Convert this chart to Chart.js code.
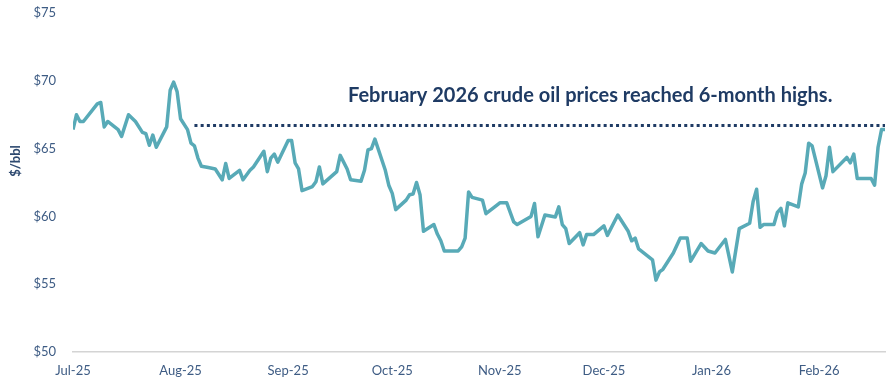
<!DOCTYPE html>
<html>
<head>
<meta charset="utf-8">
<script src="https://cdn.jsdelivr.net/npm/chart.js@4/dist/chart.umd.min.js"></script>
<style>
  html, body { margin: 0; padding: 0; background: #fff; }
  #wrap { width: 891px; height: 381px; }
</style>
</head>
<body>
<div id="wrap"><canvas id="oilChart" width="891" height="381"></canvas></div>
<script>
// daily crude price, $/bbl
var dates = [
  '2025-07-01','2025-07-02','2025-07-03','2025-07-04','2025-07-08','2025-07-09','2025-07-10','2025-07-11',
  '2025-07-14','2025-07-15','2025-07-17','2025-07-19','2025-07-21','2025-07-22','2025-07-23','2025-07-24',
  '2025-07-25','2025-07-28','2025-07-29','2025-07-30','2025-07-31','2025-08-01','2025-08-03','2025-08-04',
  '2025-08-05','2025-08-06','2025-08-07','2025-08-09','2025-08-11','2025-08-13','2025-08-14','2025-08-15',
  '2025-08-18','2025-08-19','2025-08-21','2025-08-22','2025-08-25','2025-08-26','2025-08-27','2025-08-28',
  '2025-08-29','2025-09-01','2025-09-02','2025-09-03','2025-09-04','2025-09-05','2025-09-08','2025-09-09',
  '2025-09-10','2025-09-11','2025-09-15','2025-09-16','2025-09-18','2025-09-19','2025-09-22','2025-09-23',
  '2025-09-24','2025-09-25','2025-09-26','2025-09-29','2025-09-30','2025-10-01','2025-10-02','2025-10-05',
  '2025-10-06','2025-10-07','2025-10-08','2025-10-09','2025-10-10','2025-10-13','2025-10-14','2025-10-15',
  '2025-10-16','2025-10-20','2025-10-21','2025-10-22','2025-10-23','2025-10-24','2025-10-27','2025-10-28',
  '2025-10-31','2025-11-01','2025-11-03','2025-11-05','2025-11-06','2025-11-08','2025-11-10','2025-11-11',
  '2025-11-12','2025-11-14','2025-11-17','2025-11-18','2025-11-19','2025-11-20','2025-11-21','2025-11-24',
  '2025-11-25','2025-11-26','2025-11-28','2025-12-01','2025-12-02','2025-12-05','2025-12-08','2025-12-09',
  '2025-12-10','2025-12-11','2025-12-15','2025-12-16','2025-12-17','2025-12-18','2025-12-21','2025-12-23',
  '2025-12-25','2025-12-26','2025-12-29','2025-12-31','2026-01-02','2026-01-05','2026-01-07','2026-01-09',
  '2026-01-12','2026-01-13','2026-01-14','2026-01-15','2026-01-16','2026-01-19','2026-01-20','2026-01-21',
  '2026-01-22','2026-01-23','2026-01-26','2026-01-27','2026-01-28','2026-01-29','2026-01-30','2026-02-02',
  '2026-02-03','2026-02-04','2026-02-05','2026-02-09','2026-02-10','2026-02-11','2026-02-12','2026-02-16',
  '2026-02-17','2026-02-18','2026-02-19','2026-02-20'
];
var prices = [
  66.4, 67.5, 67.0, 67.0, 68.3, 68.4, 66.6, 67.0,
  66.4, 65.9, 67.5, 67.0, 66.2, 66.1, 65.25, 66.0,
  65.1, 66.6, 69.3, 69.9, 69.2, 67.2, 66.4, 65.4,
  65.2, 64.3, 63.7, 63.6, 63.5, 62.7, 63.9, 62.8,
  63.4, 62.7, 63.4, 63.65, 64.8, 63.3, 64.3, 64.6,
  64.0, 65.6, 65.6, 63.95, 63.5, 61.9, 62.2, 62.55,
  63.65, 62.4, 63.3, 64.5, 63.5, 62.7, 62.6, 63.4,
  64.9, 65.0, 65.7, 63.4, 62.3, 61.7, 60.5, 61.2,
  61.6, 61.65, 62.5, 61.6, 58.9, 59.4, 58.7, 58.2,
  57.45, 57.45, 57.75, 58.4, 61.8, 61.4, 61.2, 60.2,
  60.8, 61.0, 61.0, 59.6, 59.4, 59.7, 60.0, 60.95,
  58.5, 60.1, 59.96, 60.7, 59.4, 59.1, 58.0, 58.8,
  57.9, 58.66, 58.66, 59.3, 58.6, 60.1, 58.9, 58.2,
  58.4, 57.6, 56.8, 55.3, 55.9, 56.1, 57.3, 58.4,
  58.4, 56.7, 58.0, 57.45, 57.3, 58.3, 55.9, 59.1,
  59.5, 61.1, 62.0, 59.2, 59.4, 59.4, 60.3, 60.6,
  59.3, 61.0, 60.7, 62.4, 63.2, 65.4, 65.2, 62.1,
  63.0, 65.1, 63.3, 64.35, 63.95, 64.6, 62.8, 62.8,
  62.3, 65.1, 66.4, 66.4
];

// dotted 6-month-high reference line
var refDates = ['2025-08-05', '2026-02-20'];
var refValues = [66.7, 66.7];

var monthStarts = ['2025-07-01','2025-08-01','2025-09-01','2025-10-01','2025-11-01','2025-12-01','2026-01-01','2026-02-01'];
var monthLabels = ['Jul-25','Aug-25','Sep-25','Oct-25','Nov-25','Dec-25','Jan-26','Feb-26'];
var yTicks = [50, 55, 60, 65, 70, 75];

var noteText = 'February 2026 crude oil prices reached 6-month highs.';
var yTitle = '$/bbl';

var startDay = Date.UTC(2025, 6, 1);
function dayNum(s) {
    var p = s.split('-');
    return Math.round((Date.UTC(+p[0], +p[1] - 1, +p[2]) - startDay) / 86400000);
}

var tickColor = '#3e5c84';
var navy = '#1f3b64';

var extraText = {
    id: 'extraText',
    afterDraw: function(chart) {
        var c = chart.ctx;
        c.save();
        c.fillStyle = navy;
        c.font = 'bold 20px Lato';
        c.textBaseline = 'middle';
        c.textAlign = 'left';
        c.fillText(noteText, 348, 96);

        c.translate(16, 161);
        c.rotate(-Math.PI / 2);
        c.textAlign = 'center';
        c.font = 'bold 13px Lato';
        c.fillStyle = '#2e4a70';
        c.fillText(yTitle, 0, 0);
        c.restore();
    }
};

var ctx = document.getElementById('oilChart').getContext('2d');
var chart = new Chart(ctx, {
    type: 'line',
    data: {
        datasets: [{
            label: 'Crude oil',
            data: dates.map(function(d, i) { return { x: dayNum(d), y: prices[i] }; }),
            borderColor: '#58aab7',
            borderWidth: 3.5,
            pointRadius: 0,
            tension: 0,
            borderJoinStyle: 'round'
        },
        {
            label: '6-month high',
            data: refDates.map(function(d, i) { return { x: dayNum(d), y: refValues[i] }; }),
            borderColor: navy,
            borderWidth: 3,
            borderDash: [3, 3.2],
            borderCapStyle: 'butt',
            pointRadius: 0
        }]
    },
    options: {
        responsive: false,
        animation: false,
        layout: { padding: { top: 13, right: 6, left: 0, bottom: 0 } },
        plugins: {
            legend: { display: false },
            tooltip: { enabled: false }
        },
        scales: {
            x: {
                type: 'linear',
                min: 0,
                max: dayNum('2026-02-20'),
                grid: { display: false },
                border: { display: true, color: '#d4d4d4', width: 1.5 },
                afterBuildTicks: function(scale) {
                    scale.ticks = monthStarts.map(function(d) { return { value: dayNum(d) }; });
                },
                afterFit: function(scale) {
                    scale.height = 29;
                    scale.paddingLeft = 0;
                    scale.paddingRight = 0;
                },
                ticks: {
                    autoSkip: false,
                    maxRotation: 0,
                    padding: 3,
                    color: tickColor,
                    font: { family: 'Lato', size: 13 },
                    callback: function(v) {
                        var i = monthStarts.map(dayNum).indexOf(v);
                        return i >= 0 ? monthLabels[i] : '';
                    }
                }
            },
            y: {
                min: 50,
                max: 75,
                grid: { display: false },
                border: { display: false },
                afterBuildTicks: function(scale) {
                    scale.ticks = yTicks.map(function(v) { return { value: v }; });
                },
                afterFit: function(scale) {
                    scale.width = 73;
                    scale.paddingTop = 0;
                    scale.paddingBottom = 0;
                },
                ticks: {
                    padding: 9,
                    color: tickColor,
                    font: { family: 'Lato', size: 13 },
                    callback: function(v) { return '$' + v; }
                }
            }
        }
    },
    plugins: [extraText]
});
</script>
</body>
</html>
